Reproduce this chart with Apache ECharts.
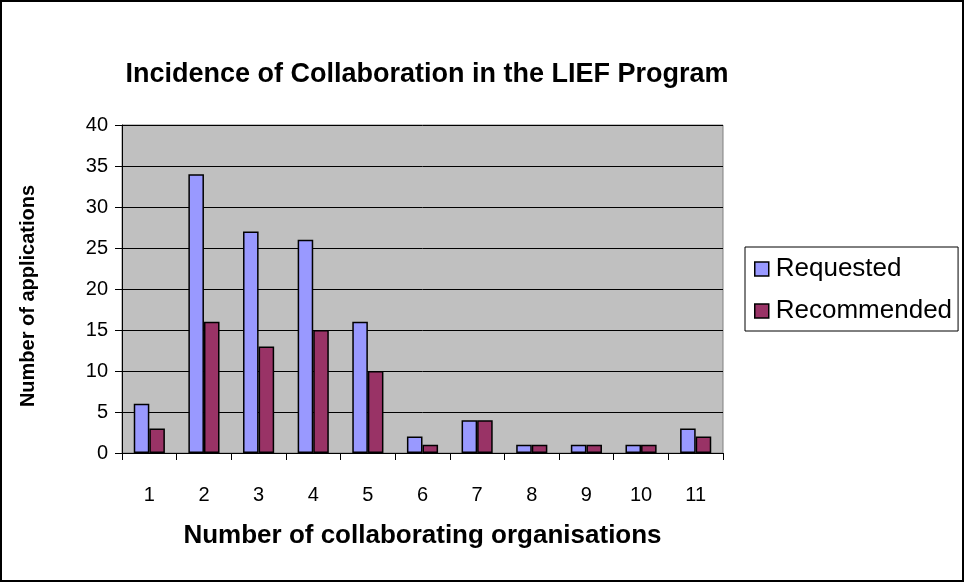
<!DOCTYPE html>
<html><head><meta charset="utf-8">
<script src="https://cdn.jsdelivr.net/npm/echarts@6/dist/echarts.min.js"></script>
<style>html,body{margin:0;padding:0;background:#fff}#c{width:964px;height:582px;}
#frame{position:absolute;left:0;top:0;width:960px;height:578px;border:2px solid #000;pointer-events:none}</style>
</head><body><div id="c"></div><div id="frame"></div>
<script>
const categories = ['1','2','3','4','5','6','7','8','9','10','11'];
const requested = [6,34,27,26,16,2,4,1,1,1,3];
const recommended = [3,16,13,15,10,1,4,1,1,1,2];
const yTicks = {min:0, max:40, interval:5};
const FONT = 'Liberation Sans, Arial, sans-serif';

const chart = echarts.init(document.getElementById('c'), null, {renderer:'canvas'});
chart.setOption({
  animation:false,
  backgroundColor:'#fff',
  title:{text:'Incidence of Collaboration in the LIEF Program', left:422, top:56, textAlign:'center',
    textStyle:{fontFamily:FONT, fontWeight:'bold', fontSize:27, color:'#000'}},
  legend:{orient:'vertical', left:745, top:247, padding:[9,6,7,9],
    borderColor:'#000', borderWidth:1, itemWidth:14, itemHeight:14, itemGap:16,
    icon:'rect',
    itemStyle:{borderColor:'#000', borderWidth:1.5},
    textStyle:{fontFamily:FONT, fontSize:26, color:'#000', padding:[0,0,0,2]},
    data:['Requested','Recommended']},
  grid:{left:122, top:125, width:601, height:328, show:true, backgroundColor:'#c0c0c0', borderColor:'#808080', borderWidth:1},
  xAxis:{type:'category', data:categories, name:'Number of collaborating organisations', nameLocation:'middle', nameGap:70,
    nameTextStyle:{fontFamily:FONT, fontWeight:'bold', fontSize:26, color:'#000'},
    axisLine:{lineStyle:{color:'#000', width:1}},
    axisTick:{show:true, inside:false, length:7, lineStyle:{color:'#000'}},
    axisLabel:{fontFamily:FONT, fontSize:20, color:'#000', margin:32},
    splitLine:{show:false}},
  yAxis:{type:'value', min:yTicks.min, max:yTicks.max, interval:yTicks.interval,
    name:'Number of applications', nameLocation:'middle', nameGap:84,
    nameTextStyle:{fontFamily:FONT, fontWeight:'bold', fontSize:20, color:'#000', padding:[0,14,0,0]},
    axisLine:{show:true, lineStyle:{color:'#000', width:1}},
    axisTick:{show:true, length:7, lineStyle:{color:'#000'}},
    axisLabel:{fontFamily:FONT, fontSize:20, color:'#000', margin:14},
    splitLine:{show:true, lineStyle:{color:'#000', width:1}}},
  series:[
    {name:'Requested', type:'bar', data:requested, barGap:'0%', barCategoryGap:'43%',
      itemStyle:{color:'#9999FF', borderColor:'#000', borderWidth:1.5}},
    {name:'Recommended', type:'bar', data:recommended, barGap:'0%', barCategoryGap:'43%',
      itemStyle:{color:'#993366', borderColor:'#000', borderWidth:1.5}}
  ]
});
</script></body></html>
